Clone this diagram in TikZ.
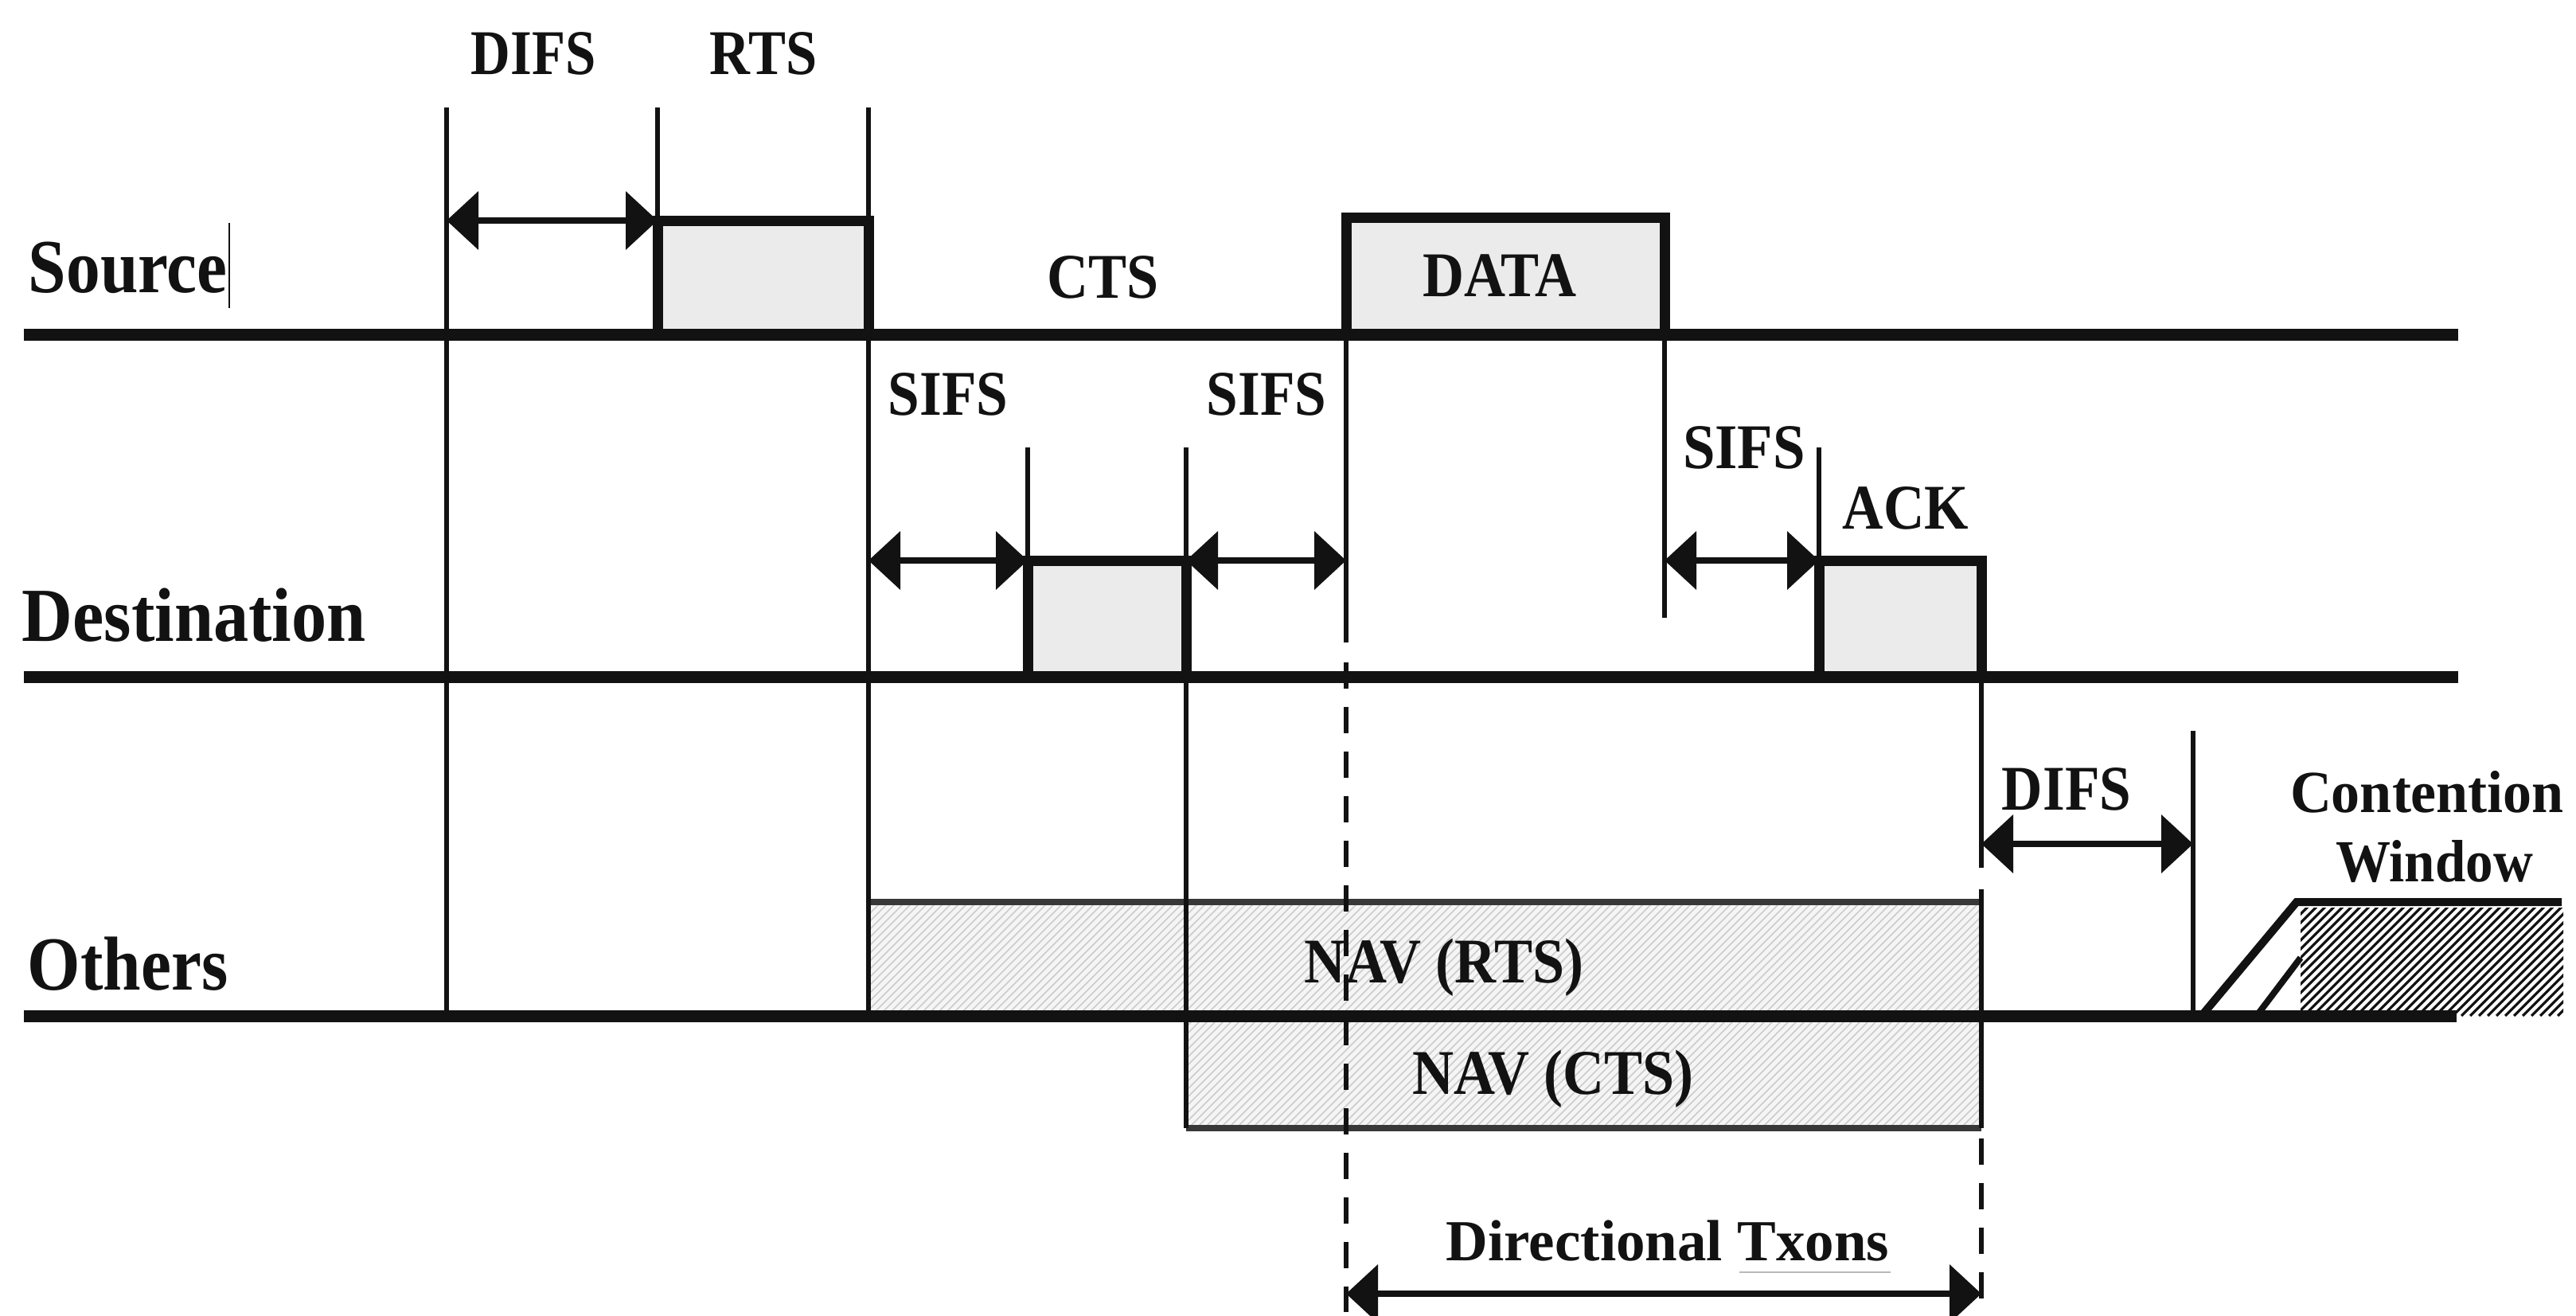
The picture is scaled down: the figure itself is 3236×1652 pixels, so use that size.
\documentclass[tikz,border=0pt]{standalone}
\usepackage{fontspec}
\usepackage{graphicx}
\setmainfont{Liberation Serif}
\usetikzlibrary{arrows.meta}
\definecolor{ink}{gray}{0.07}
\definecolor{boxfill}{gray}{0.92}
\definecolor{navfill}{gray}{0.96}
\definecolor{navhatch}{gray}{0.80}
\definecolor{navedge}{gray}{0.22}
\newcommand{\sx}[2]{\scalebox{#1}[1]{#2}}
\begin{document}
\begin{tikzpicture}[x=0.25pt,y=-0.25pt,
  base/.style={draw=ink,line width=3.75pt,line cap=butt},
  frame/.style={draw=ink,line width=3.25pt,fill=boxfill,line join=miter},
  thinv/.style={draw=ink,line width=1.5pt},
  dimarr/.style={draw=ink,line width=2pt,<->,>={Triangle[length=10pt,width=18pt]}},
  vdash/.style={draw=ink,line width=1.5pt,dash pattern=on 8.25pt off 5.75pt},
  lbl/.style={inner sep=0pt,text=ink,font=\bfseries\fontsize{20pt}{24pt}\selectfont},
  rowlbl/.style={inner sep=0pt,text=ink,font=\bfseries\fontsize{24pt}{28pt}\selectfont},
  cwlbl/.style={inner sep=0pt,text=ink,font=\bfseries\fontsize{18.75pt}{22pt}\selectfont},
]
\useasboundingbox[fill=white] (0,0) rectangle (3236,1652);

% NAV boxes (light hatched fill)
\fill[navfill] (1091,1133) rectangle (2489,1276);
\fill[navfill] (1490,1276) rectangle (2489,1417);
\begin{scope}
  \clip (1091,1133) rectangle (2489,1276) (1490,1276) rectangle (2489,1417);
  \foreach \i in {800,810,...,2500} \draw[navhatch,line width=0.4pt] (\i,1420) -- ++(290,-290);
\end{scope}
\draw[navedge,line width=2pt] (1091,1133) -- (2489,1133);
\draw[navedge,line width=2pt] (1490,1417) -- (2489,1417);

% contention window hatch
\begin{scope}
  \clip (2890,1140) rectangle (3220,1276);
  \foreach \i in {2740,2751,...,3230} \draw[ink,line width=0.8pt] (\i,1276) -- ++(150,-150);
\end{scope}
\draw[ink,line width=2.5pt,line join=miter] (2768,1273) -- (2885,1133) -- (3218,1133);
\draw[ink,line width=2pt] (2837,1273) -- (2890,1203);

% frame boxes
\draw[frame] (826,420) -- (826,277) -- (1091,277) -- (1091,420);
\draw[frame] (1691,420) -- (1691,273) -- (2091,273) -- (2091,420);
\draw[frame] (1291,850) -- (1291,704) -- (1490,704) -- (1490,850);
\draw[frame] (2285,850) -- (2285,704) -- (2489,704) -- (2489,850);

% time lines
\draw[base] (30,420) -- (3088,420);
\draw[base] (30,850) -- (3088,850);
\draw[base] (30,1276) -- (3086,1276);

% thin vertical markers
\draw[thinv] (561,135) -- (561,1276);
\draw[thinv] (826,135) -- (826,277);
\draw[thinv] (1091,135) -- (1091,1276);
\draw[thinv] (1291,562) -- (1291,704);
\draw[thinv] (1490,562) -- (1490,704);
\draw[thinv] (1490,850) -- (1490,1417);
\draw[thinv] (1691,420) -- (1691,807);
\draw[vdash] (1691,832) -- (1691,1648);
\draw[thinv] (2091,420) -- (2091,776);
\draw[thinv] (2285,562) -- (2285,704);
\draw[thinv] (2489,850) -- (2489,1090);
\draw[thinv] (2489,1117) -- (2489,1417);
\draw[vdash] (2489,1430) -- (2489,1648);
\draw[thinv] (2755,918) -- (2755,1276);

% interval arrows
\draw[dimarr] (561,277) -- (826,277);
\draw[dimarr] (1091,704) -- (1291,704);
\draw[dimarr] (1490,704) -- (1691,704);
\draw[dimarr] (2091,704) -- (2285,704);
\draw[dimarr] (2489,1060) -- (2755,1060);
\draw[dimarr] (1691,1625) -- (2489,1625);

% row labels
\node[rowlbl,anchor=base west] (src) at (35,367) {\sx{0.89}{Source}};
\draw[ink,line width=0.4pt] (288,280) -- (288,387);
\node[rowlbl,anchor=base west] (dst) at (27,805) {\sx{0.92}{Destination}};
\node[rowlbl,anchor=base west] (oth) at (34,1243) {\sx{0.89}{Others}};

% labels
\node[lbl,anchor=base] (difsA) at (670,93) {\sx{0.86}{DIFS}};
\node[lbl,anchor=base] (rts) at (959,93) {\sx{0.88}{RTS}};
\node[lbl,anchor=base] (cts) at (1386,374) {\sx{0.9}{CTS}};
\node[lbl,anchor=base] (data) at (1884,372) {\sx{0.9}{DATA}};
\node[lbl,anchor=base] (sifsA) at (1191,521) {\sx{0.89}{SIFS}};
\node[lbl,anchor=base] (sifsB) at (1591,521) {\sx{0.89}{SIFS}};
\node[lbl,anchor=base] (sifsC) at (2191,588) {\sx{0.91}{SIFS}};
\node[lbl,anchor=base] (ack) at (2394,664) {\sx{0.89}{ACK}};
\node[lbl,anchor=base] (difsB) at (2596,1017) {\sx{0.89}{DIFS}};
\node[lbl,anchor=base] (navr) at (1814,1234) {\sx{0.9}{NAV (RTS)}};
\node[lbl,anchor=base] (navc) at (1951,1374) {\sx{0.9}{NAV (CTS)}};
\node[cwlbl,anchor=base] (cont) at (3049,1020) {\sx{0.96}{Contention}};
\node[cwlbl,anchor=base] (win) at (3058,1107) {\sx{0.92}{Window}};
\node[inner sep=0pt,text=ink,font=\bfseries\fontsize{18.25pt}{22pt}\selectfont,anchor=base] (dir) at (2095,1583) {Directional Txons};
\draw[gray!55,line width=0.5pt] (2185,1598) -- (2375,1598);
\end{tikzpicture}
\end{document}
